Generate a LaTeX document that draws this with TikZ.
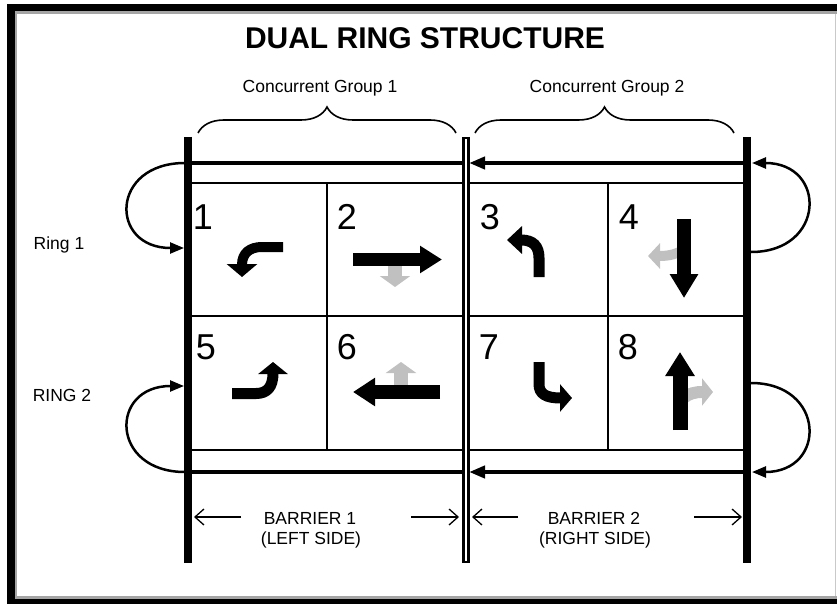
\documentclass[tikz,border=0pt]{standalone}
\usepackage{fontspec}
\setmainfont{Liberation Sans}
\usetikzlibrary{arrows.meta,decorations.pathreplacing}
\definecolor{lightg}{RGB}{192,192,192}
\definecolor{framegray}{RGB}{165,165,165}
\tikzset{
  barline/.style={line width=7.5pt},
  ringline/.style={line width=4pt},
  ringtip/.style={ringline,-{Triangle[length=16pt,width=12pt]}},
  cellline/.style={line width=2.2pt},
  transfer/.style={line width=2.5pt,-{Triangle[length=14pt,width=11pt]}},
  movearrow/.style={line width=11pt,black},
  grayarrow/.style={line width=12pt,lightg},
  dimarrow/.style={line width=1.3pt,-{Straight Barb[length=9pt,width=16pt]}},
  bracestyle/.style={line width=1.6pt,decorate,decoration={brace,amplitude=26pt,aspect=0.5}},
  lbl/.style={font=\fontsize{17.5}{20}\selectfont,inner sep=0pt},
  num/.style={font=\fontsize{36}{40}\selectfont,inner sep=0pt},
}
\begin{document}
\begin{tikzpicture}[x=1pt,y=-1pt]
\useasboundingbox (0,0) rectangle (837,604);
\clip (0,0) rectangle (837,604);
% frame
\fill[white] (0,0) rectangle (837,604);
\fill[black] (7,4) rectangle (837,11);
\fill[black] (7,4) rectangle (15,604);
\fill[black] (7,599) rectangle (837,604);
\fill[framegray] (15,11) rectangle (837,14);
\fill[framegray] (15,11) rectangle (17,599);
\fill[framegray] (15,596) rectangle (837,599);
\fill[framegray!60] (835,14) rectangle (836,596);

% titles
\node[font=\fontsize{30}{34}\selectfont\bfseries,inner sep=0pt] (title) at (425,38) {DUAL RING STRUCTURE};
\node[lbl] (cg1) at (320,88) {Concurrent Group 1};
\node[lbl] (cg2) at (607,88) {Concurrent Group 2};
\node[lbl] (ring1) at (59,245) {Ring 1};
\node[lbl] (ring2) at (62,395) {RING 2};

% braces
\coordinate (b1a) at (198,133); \coordinate (b1b) at (456,133);
\coordinate (b2a) at (475,133); \coordinate (b2b) at (734,133);
\draw[bracestyle] (b1a) -- (b1b);
\draw[bracestyle] (b2a) -- (b2b);

% key coordinates
\coordinate (LT) at (188,137); \coordinate (LB) at (188,563);
\coordinate (MT) at (466,137); \coordinate (MB) at (466,563);
\coordinate (RT) at (747,137); \coordinate (RB) at (747,563);
\coordinate (r1L) at (188,163); \coordinate (r1M) at (469,163); \coordinate (r1R) at (747,163);
\coordinate (r2L) at (188,472); \coordinate (r2M) at (469,472); \coordinate (r2R) at (747,472);

% cell grid
\draw[cellline] (188,183) -- (747,183);
\draw[cellline] (188,316) -- (747,316);
\draw[cellline] (188,450) -- (747,450);
\draw[cellline] (327,183) -- (327,450);
\draw[cellline] (608,183) -- (608,450);

% ring lines
\draw[ringtip] (r1R) -- (r1M);
\draw[ringline] (r1M) -- (r1L);
\draw[ringtip] (r2R) -- (r2M);
\draw[ringline] (r2M) -- (r2L);

% transfer arcs
\coordinate (t1s) at (185,163); \coordinate (t1e) at (184,248);
\coordinate (t2s) at (751,252); \coordinate (t2e) at (752,163);
\coordinate (t3s) at (185,472); \coordinate (t3e) at (184,386);
\coordinate (t4s) at (751,383); \coordinate (t4e) at (752,472);
\draw[transfer] (t1s) .. controls +(-75,0) and +(-75,0) .. (t1e);
\draw[transfer] (t2s) .. controls +(75,0) and +(75,0) .. (t2e);
\draw[transfer] (t3s) .. controls +(-75,0) and +(-75,0) .. (t3e);
\draw[transfer] (t4s) .. controls +(75,0) and +(75,0) .. (t4e);

% dimension arrows
\draw[dimarrow] (241,517) -- (194,517);
\draw[dimarrow] (411,517) -- (459,517);
\draw[dimarrow] (518,517) -- (472,517);
\draw[dimarrow] (694,517) -- (742,517);
\node[lbl] (bar1a) at (310,518) {BARRIER 1};
\node[lbl] (bar1b) at (311,540) {(LEFT SIDE)};
\node[lbl] (bar2a) at (594,518) {BARRIER 2};
\node[lbl] (bar2b) at (595,540) {(RIGHT SIDE)};

% barriers
\draw[barline] (LT) -- (LB);
\draw[barline] (RT) -- (RB);
\draw[line width=8.5pt] (MT) -- (MB);
\draw[line width=2.6pt,white] ([yshift=-2.5pt]MT) -- ([yshift=2.5pt]MB);

% phase numbers
\node[num] (n1) at (203,217) {1};
\node[num] (n2) at (347,217) {2};
\node[num] (n3) at (490,217) {3};
\node[num] (n4) at (629,217) {4};
\node[num] (n5) at (206,347) {5};
\node[num] (n6) at (347,347) {6};
\node[num] (n7) at (489,347) {7};
\node[num] (n8) at (628,347) {8};

% phase 1: left turn
\draw[movearrow,line width=10pt,-{Triangle[length=13pt,width=30pt]}] (283,247) -- (262,247) .. controls (250,247) and (242,253) .. (242,277);
% phase 2: through east + gray right
\draw[grayarrow,line width=14pt,-{Triangle[length=11pt,width=30pt]}] (395,262) -- (395,287);
\draw[movearrow,line width=13pt,-{Triangle[length=22pt,width=26pt]}] (353,259.5) -- (442,259.5);
% phase 3: left turn
\draw[movearrow,line width=11pt,-{Triangle[length=15pt,width=27pt]}] (539,277) -- (539,258) .. controls (539,246) and (533,240) .. (507,240);
% phase 4: through south + gray right
\draw[grayarrow,line width=10pt,-{Triangle[length=12pt,width=25pt]}] (686,249) .. controls (676,254) and (670,256) .. (648,256);
\draw[movearrow,line width=14pt,-{Triangle[length=24pt,width=27pt]}] (684,219) -- (684,298);
% phase 5: left turn
\draw[movearrow,line width=11pt,-{Triangle[length=12pt,width=29pt]}] (232,393.5) -- (256,393.5) .. controls (267,393.5) and (273,387) .. (273,362);
% phase 6: through west + gray right
\draw[grayarrow,line width=14pt,-{Triangle[length=11pt,width=30pt]}] (401,392) -- (401,362);
\draw[movearrow,line width=14pt,-{Triangle[length=22pt,width=27pt]}] (440,392) -- (353,392);
% phase 7: left turn
\draw[movearrow,line width=11pt,-{Triangle[length=12pt,width=27pt]}] (539,362) -- (539,384) .. controls (539,394) and (546,398) .. (572,398);
% phase 8: through north + gray right
\draw[grayarrow,line width=12pt,-{Triangle[length=11pt,width=27pt]}] (682,399) .. controls (690,393) and (695,392) .. (713,392);
\draw[movearrow,line width=15pt,-{Triangle[length=24pt,width=28pt]}] (680,430) -- (680,352);
\end{tikzpicture}
\end{document}
